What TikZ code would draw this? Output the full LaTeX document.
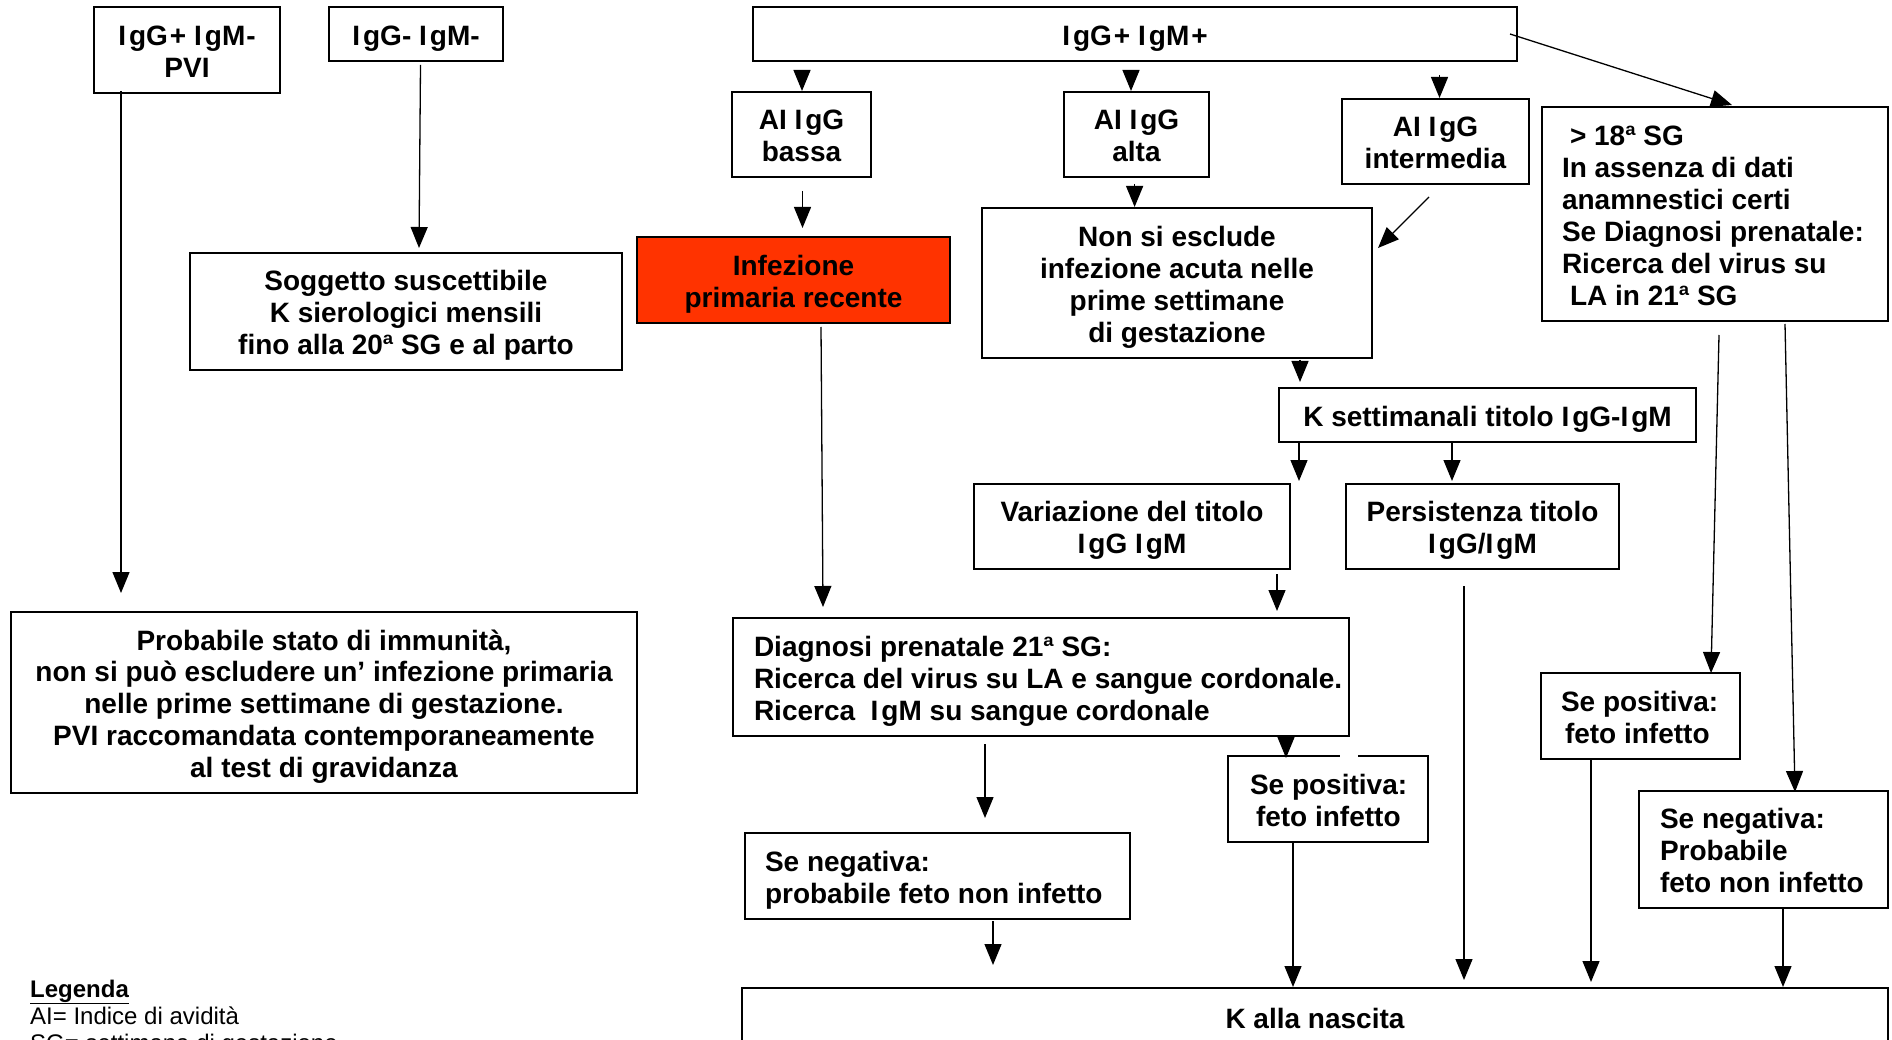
\documentclass[tikz,border=0pt]{standalone}
\usepackage{fontspec}
\setmainfont{Liberation Sans}
\usetikzlibrary{arrows.meta}
\definecolor{infred}{HTML}{FF3300}
\newcommand\boxfont{\fontsize{28}{31.9}\selectfont\bfseries}
\newcommand\legfont{\fontsize{24}{27}\selectfont}
\newcommand\Ig{I\kern3pt g}
\newcommand\boxtextc[1]{\raisebox{-5pt}[\height][\depth]{\begin{tabular}{@{}c@{}}#1\end{tabular}}}
\newcommand\boxtextl[2]{\raisebox{-5pt}[\height][\depth]{\makebox[#1][l]{\begin{tabular}{@{}l@{}}#2\end{tabular}}}}
\tikzset{
  box/.style={draw, line width=2pt, rectangle, inner sep=0pt, font=\boxfont},
  arr/.style={line width=1.3pt, -{Triangle[length=21pt,width=17pt]}},
}
\begin{document}
\begin{tikzpicture}[x=1pt,y=-1pt]
\useasboundingbox (0,0) rectangle (1892,1040);
\clip (0,0) rectangle (1892,1040);
\fill[white] (0,0) rectangle (1892,1040);

% nodes
\node[box, minimum width=186pt, minimum height=86pt] (pvi) at (187,50) {\boxtextc{\Ig G\kern2pt+ \Ig M\kern1pt-\\PVI}};
\node[box, minimum width=174pt, minimum height=54pt] (neg) at (416,34) {\boxtextc{\Ig G- \Ig M-}};
\node[box, minimum width=764pt, minimum height=54pt] (top) at (1135,34) {\boxtextc{\Ig G\kern2pt+ \Ig M\kern2pt+}};
\node[box, minimum width=139pt, minimum height=85pt] (bassa) at (801.5,134.5) {\boxtextc{AI \Ig G\\bassa}};
\node[box, minimum width=145pt, minimum height=85pt] (alta) at (1136.5,134.5) {\boxtextc{AI \Ig G\\alta}};
\node[box, minimum width=187pt, minimum height=85pt] (interm) at (1435.5,141.5) {\boxtextc{AI \Ig G\\intermedia}};
\node[box, minimum width=346pt, minimum height=214pt] (late) at (1715,214)
  {\boxtextl{306pt}{\hspace*{8pt}> 18ª SG\\In assenza di dati\\anamnestici certi\\Se Diagnosi prenatale:\\Ricerca del virus su\\\hspace*{8pt}LA in 21ª SG}};
\node[box, fill=infred, minimum width=313pt, minimum height=86pt] (infez) at (793.5,280) {\boxtextc{Infezione\\primaria recente}};
\node[box, minimum width=432pt, minimum height=117pt] (sogg) at (406,311.5)
  {\boxtextc{Soggetto suscettibile\\K sierologici mensili\\fino alla 20ª SG e al parto}};
\node[box, minimum width=390pt, minimum height=150pt] (nonsi) at (1177,283)
  {\boxtextc{Non si esclude\\infezione acuta nelle\\prime settimane\\di gestazione}};
\node[box, minimum width=417pt, minimum height=54pt] (ksett) at (1487.5,415) {\boxtextc{K settimanali titolo \Ig G-\Ig M}};
\node[box, minimum width=316pt, minimum height=85pt] (variaz) at (1132,526.5) {\boxtextc{Variazione del titolo\\\Ig G \Ig M}};
\node[box, minimum width=273pt, minimum height=85pt] (persist) at (1482.5,526.5) {\boxtextc{Persistenza titolo\\\Ig G/\Ig M}};
\node[box, minimum width=626pt, minimum height=181pt] (probab) at (324,702.5)
  {\boxtextc{Probabile stato di immunità,\\non si può escludere un’ infezione primaria\\nelle prime settimane di gestazione.\\PVI raccomandata contemporaneamente\\al test di gravidanza}};
\node[box, minimum width=616pt, minimum height=118pt] (diagn) at (1041,677)
  {\boxtextl{574pt}{Diagnosi prenatale 21ª SG:\\Ricerca del virus su LA e sangue cordonale.\\Ricerca\ \ \Ig M su sangue cordonale}};
\node[box, minimum width=200pt, minimum height=86pt] (sepos1) at (1328,799)
  {\boxtextl{156pt}{Se positiva:\\\hspace*{6pt}feto infetto}};
\node[box, minimum width=385pt, minimum height=86pt] (seneg1) at (937.5,876)
  {\boxtextl{345pt}{Se negativa:\\probabile feto non infetto}};
\node[box, minimum width=199pt, minimum height=86pt] (sepos2) at (1640.5,716)
  {\boxtextl{159pt}{Se positiva:\\\hspace*{4pt}feto infetto}};
\node[box, minimum width=249pt, minimum height=117pt] (seneg2) at (1763.5,849.5)
  {\boxtextl{207pt}{Se negativa:\\Probabile\\feto non infetto}};
\node[box, minimum width=1146pt, minimum height=58pt] (knasc) at (1315,1017) {\boxtextc{K alla nascita}};

% gap in border
\draw[white, line width=3pt] (1340,756) -- (1358,756);

% legend
\node[anchor=base west, font=\legfont, inner sep=0pt] (leg) at (30,997)
  {\begin{tabular}[t]{@{}l@{}}\textbf{\underline{Legenda}}\\AI= Indice di avidità\\SG= settimana di gestazione\end{tabular}};

% connector end points
\coordinate (c1) at (802,71);
\coordinate (c2) at (1131,74);
\coordinate (c3) at (1439.5,75);
\coordinate (c4s) at (802.5,191); \coordinate (c4e) at (802.5,228);
\coordinate (c5s) at (420.5,65);  \coordinate (c5e) at (419,248);
\coordinate (c6s) at (121,91);    \coordinate (c6e) at (121,593);
\coordinate (c7s) at (1510,34);   \coordinate (c7e) at (1732,105);
\coordinate (c8s) at (1429,197);  \coordinate (c8e) at (1378,248);
\coordinate (c9) at (1134.6,184);
\coordinate (c10s) at (821,327);  \coordinate (c10e) at (823,607);
\coordinate (c11s) at (1300,360); \coordinate (c11e) at (1300,382);
\coordinate (c12) at (1299,442);  \coordinate (c12e) at (1299,481);
\coordinate (c13) at (1452,442);  \coordinate (c13e) at (1452,481);
\coordinate (c14s) at (1277,574); \coordinate (c14e) at (1277,611);
\coordinate (c15s) at (1286,738);
\coordinate (c16s) at (985,744);  \coordinate (c16e) at (985,818);
\coordinate (c17s) at (993,921);  \coordinate (c17e) at (993,965);
\coordinate (c18) at (1293,842);
\coordinate (c19s) at (1464,586); \coordinate (c19e) at (1464,980);
\coordinate (c20s) at (1719,335); \coordinate (c20e) at (1711,673);
\coordinate (c21) at (1591,759);  \coordinate (c21e) at (1591,982);
\coordinate (c22s) at (1785,324); \coordinate (c22e) at (1795,792);
\coordinate (c23) at (1783,908);

% connectors
\draw[arr] (c1) -- (c1 |- bassa.north);
\draw[arr] (c2) -- (c2 |- alta.north);
\draw[arr] (c3) -- (c3 |- interm.north);
\draw[arr] (c4s) -- (c4e);
\draw[arr] (c5s) -- (c5e);
\draw[arr] (c6s) -- (c6e);
\draw[arr] (c7s) -- (c7e);
\draw[arr] (c8s) -- (c8e);
\draw[arr] (c9) -- (c9 |- nonsi.north);
\draw[arr] (c10s) -- (c10e);
\draw[arr] (c11s) -- (c11e);
\draw[arr] (c12 |- ksett.south) -- (c12e);
\draw[arr] (c13 |- ksett.south) -- (c13e);
\draw[arr] (c14s) -- (c14e);
\draw[arr] (c15s) -- ([yshift=-3pt]c15s |- sepos1.north);
\draw[arr] (c16s) -- (c16e);
\draw[arr] (c17s) -- (c17e);
\draw[arr] (c18 |- sepos1.south) -- (c18 |- knasc.north);
\draw[arr] (c19s) -- (c19e);
\draw[arr] (c20s) -- (c20e);
\draw[arr] (c21 |- sepos2.south) -- (c21e);
\draw[arr] (c22s) -- (c22e);
\draw[arr] (c23 |- seneg2.south) -- (c23 |- knasc.north);
\end{tikzpicture}
\end{document}
